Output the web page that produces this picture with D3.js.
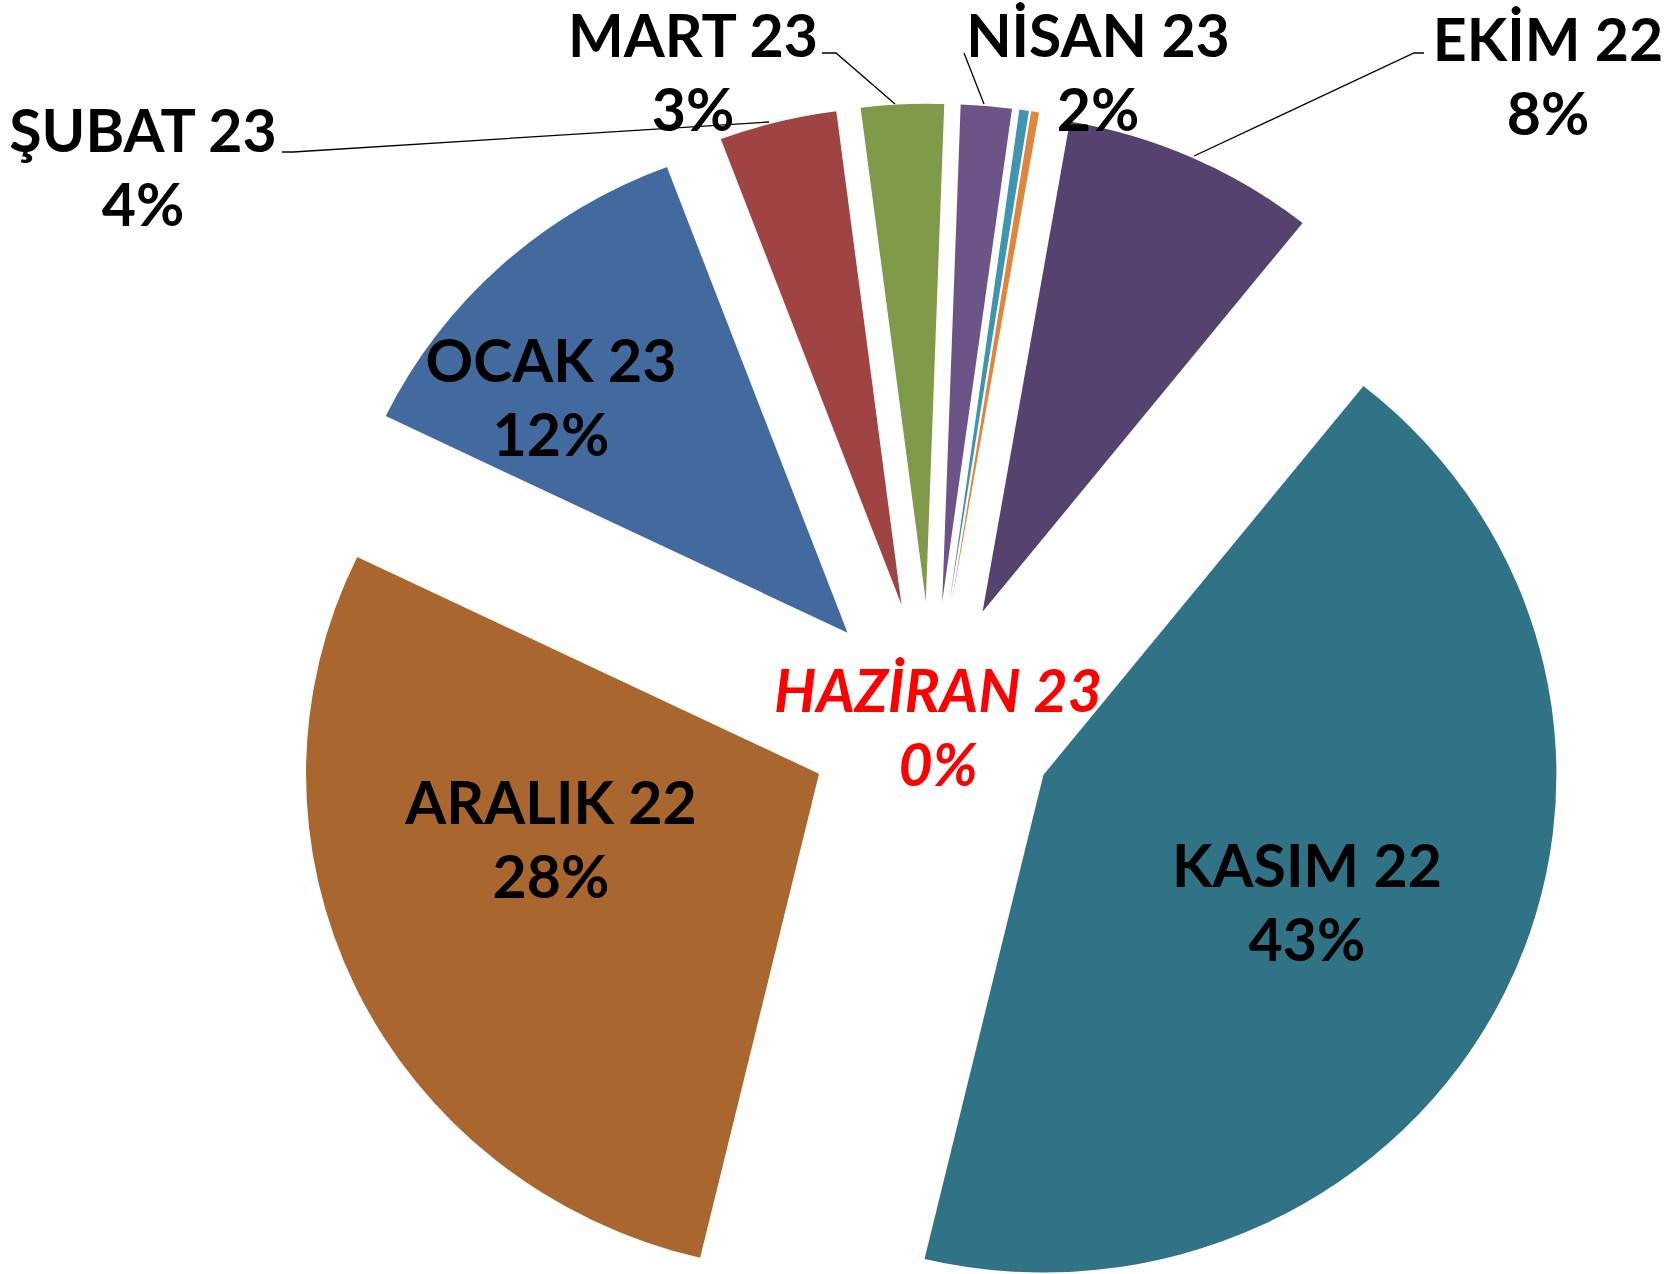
<!DOCTYPE html>
<html>
<head>
<meta charset="utf-8">
<script src="https://cdn.jsdelivr.net/npm/d3@7"></script>
<style>
	body { margin: 0; background: #fff; }
	#chart-area { width: 1672px; height: 1274px; }
	text { font-family: Lato, "Open Sans", sans-serif; font-weight: bold; }
</style>
</head>
<body>
<div id="chart-area"></div>
<script>
// monthly shares (%)
var months = ["EKİM 22", "KASIM 22", "ARALIK 22", "OCAK 23", "ŞUBAT 23", "MART 23", "NİSAN 23", "MAYIS 23", "HAZİRAN 23"];
var shares = [8.0, 43.0, 28.45, 12.1, 3.7, 2.6, 1.6, 0.3, 0.25];

// Pie Visualization
PieChart = function(_parentElement, _months, _shares){
	this.parentElement = _parentElement;
	this.data = _months.map(function(m, i){ return { month: m, share: _shares[i] }; });
	this.displayData = this.data;

	this.initVis();
};

PieChart.prototype.initVis = function() {
	var vis = this;

	vis.width = 1672;
	vis.height = 1274;

	vis.cx = 931.5;
	vis.cy = 722;
	vis.radius = 513;
	vis.explode = 124.5;
	vis.squash = 0.97;
	vis.firstAngle = 9.8;

	vis.svg = d3.select("#" + vis.parentElement).append("svg")
		.attr("width", vis.width)
		.attr("height", vis.height);

	vis.svg.append("rect")
		.attr("width", vis.width)
		.attr("height", vis.height)
		.attr("fill", "#fff");

	vis.color = d3.scaleOrdinal()
		.domain(months)
		.range(["#56426e", "#317386", "#a9662f", "#436a9e", "#9f4443", "#809a4a", "#6c5489", "#3e95b0", "#e0863c"]);

	// label layout (baseline of first line, centred)
	vis.labelPos = {
		"EKİM 22":    { x: 1548, y: 61,  leader: [[1424, 53], [1414, 53], [1194, 156]] },
		"KASIM 22":   { x: 1307, y: 887 },
		"ARALIK 22":  { x: 551,  y: 824 },
		"OCAK 23":    { x: 551,  y: 382 },
		"ŞUBAT 23":   { x: 143,  y: 152, leader: [[282, 152], [293, 152], [769, 122]] },
		"MART 23":    { x: 693,  y: 57,  leader: [[822, 53], [836, 53], [895, 104]] },
		"NİSAN 23":   { x: 1098, y: 57,  leader: [[964, 53], [984, 104]] },
		"HAZİRAN 23": { x: 938,  y: 712, red: true }
	};

	vis.pie = d3.pie()
		.sort(null)
		.value(function(d){ return d.share; })
		.startAngle(vis.firstAngle * Math.PI / 180)
		.endAngle(vis.firstAngle * Math.PI / 180 + 2 * Math.PI);

	vis.arc = d3.arc()
		.innerRadius(0)
		.outerRadius(vis.radius);

	vis.leaderGroup = vis.svg.append("g");

	vis.pieGroup = vis.svg.append("g")
		.attr("transform", "translate(" + vis.cx + "," + vis.cy + ") scale(1," + vis.squash + ")");

	vis.labelGroup = vis.svg.append("g");

	vis.wrangleData();
};

PieChart.prototype.wrangleData = function() {
	var vis = this;

	vis.displayData = vis.pie(vis.data);

	vis.updateVis();
};

PieChart.prototype.updateVis = function() {
	var vis = this;
	var pct = function(v){ return Math.round(v) + "%"; };

	vis.pieGroup.selectAll("path.slice")
		.data(vis.displayData)
		.enter().append("path")
		.attr("class", "slice")
		.attr("d", vis.arc)
		.attr("fill", function(d){ return vis.color(d.data.month); })
		.attr("transform", function(d){
			var mid = (d.startAngle + d.endAngle) / 2;
			return "translate(" + (vis.explode * Math.sin(mid)) + "," + (-vis.explode * Math.cos(mid)) + ")";
		});

	var labelled = vis.displayData.filter(function(d){ return vis.labelPos[d.data.month]; });

	vis.leaderGroup.selectAll("path")
		.data(labelled.filter(function(d){ return vis.labelPos[d.data.month].leader; }))
		.enter().append("path")
		.attr("d", function(d){ return d3.line()(vis.labelPos[d.data.month].leader); })
		.attr("fill", "none")
		.attr("stroke", "#000")
		.attr("stroke-width", 1.3);

	var labels = vis.labelGroup.selectAll("text")
		.data(labelled)
		.enter().append("text")
		.attr("text-anchor", "middle")
		.attr("font-size", 59)
		.attr("fill", function(d){ return vis.labelPos[d.data.month].red ? "#ff0000" : "#000"; })
		.attr("font-style", function(d){ return vis.labelPos[d.data.month].red ? "italic" : "normal"; });

	labels.append("tspan")
		.attr("x", function(d){ return vis.labelPos[d.data.month].x; })
		.attr("y", function(d){ return vis.labelPos[d.data.month].y; })
		.text(function(d){ return d.data.month; });

	labels.append("tspan")
		.attr("x", function(d){ return vis.labelPos[d.data.month].x; })
		.attr("y", function(d){ return vis.labelPos[d.data.month].y + 74; })
		.text(function(d){ return pct(d.data.share); });
};

new PieChart("chart-area", months, shares);
</script>
</body>
</html>
